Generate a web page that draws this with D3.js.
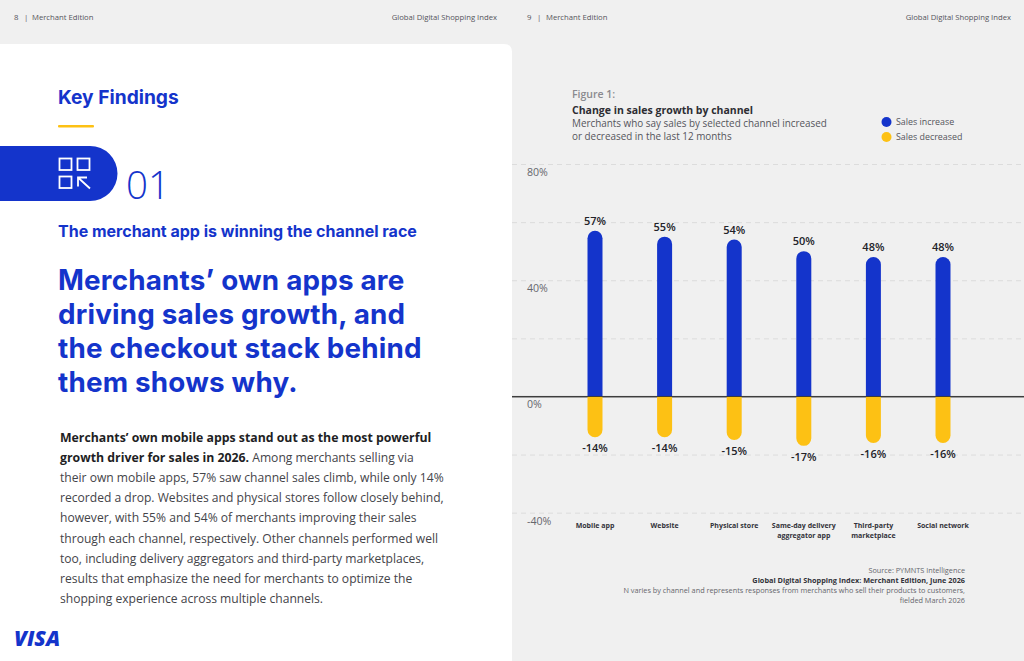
<!DOCTYPE html>
<html>
<head>
<meta charset="utf-8">
<script src="https://cdn.jsdelivr.net/npm/d3@7"></script>
<style>
html,body{margin:0;padding:0;background:#f0f0f0;overflow:hidden}
svg{display:block}
text{font-family:"Open Sans","Noto Sans",sans-serif}
</style>
</head>
<body>
<svg id="c" width="1024" height="661"></svg>
<script>
const channels = ["Mobile app","Website","Physical store","Same-day delivery|aggregator app","Third-party|marketplace","Social network"];
const salesIncrease = [57,55,54,50,48,48];
const salesDecrease = [-14,-14,-15,-17,-16,-16];
const yTicks = [80,60,40,20,0,-20,-40];
const yTickLabels = {80:"80%",40:"40%",0:"0%","-40":"-40%"};
const legendItems = ["Sales increase","Sales decreased"];
const bodyLines = [
 [["Merchants’ own mobile apps stand out as the most powerful",1]],
 [["growth driver for sales in 2026.",1],[" Among merchants selling via",0]],
 [["their own mobile apps, 57% saw channel sales climb, while only 14%",0]],
 [["recorded a drop. Websites and physical stores follow closely behind,",0]],
 [["however, with 55% and 54% of merchants improving their sales",0]],
 [["through each channel, respectively. Other channels performed well",0]],
 [["too, including delivery aggregators and third-party marketplaces,",0]],
 [["results that emphasize the need for merchants to optimize the",0]],
 [["shopping experience across multiple channels.",0]]
];
const headline = ["Merchants’ own apps are","driving sales growth, and","the checkout stack behind","them shows why."];
const sourceLines = [
 ["Source: PYMNTS Intelligence",0],
 ["Global Digital Shopping Index: Merchant Edition, June 2026",1],
 ["N varies by channel and represents responses from merchants who sell their products to customers,",0],
 ["fielded March 2026",0]
];
const BLUE="#1434cb", GOLD="#fdc114", INK="#2d2d33", GREY="#55555c";

const svg=d3.select("#c");
function T(x,y,s,size,fill,weight,anchor){
  return svg.append("text").attr("x",x).attr("y",y).text(s).attr("font-size",size).attr("fill",fill)
    .attr("font-weight",weight||400).attr("text-anchor",anchor||"start");
}
// Page background
svg.append("rect").attr("width",1024).attr("height",661).attr("fill","#f0f0f0");
svg.append("path").attr("d","M0,44H504Q512,44 512,52V661H0Z").attr("fill","#fff");

// Running headers
[[14,24,32],[527,537,546]].forEach((h,i)=>{
  T(h[0],19.5,String(8+i),7.8,GREY);
  T(h[1],19.5,"|",7.8,GREY);
  T(h[2],19.5,"Merchant Edition",7.7,GREY);
});
T(497,19.5,"Global Digital Shopping Index",7.7,GREY,400,"end");
T(1011,19.5,"Global Digital Shopping Index",7.7,GREY,400,"end");

// Left page
T(58,104,"Key Findings",19.2,BLUE,700).style("font-family","Inter");
svg.append("rect").attr("x",58).attr("y",125).attr("width",36).attr("height",2.5).attr("rx",1).attr("fill",GOLD);
svg.append("path").attr("d","M0,146H90A27.5,27.5 0 0 1 90,201H0Z").attr("fill",BLUE);
const ic=svg.append("g").attr("fill","none").attr("stroke","#fff").attr("stroke-width",1.8);
ic.append("rect").attr("x",59.5).attr("y",158.5).attr("width",12).attr("height",11.5);
ic.append("rect").attr("x",77.5).attr("y",158.5).attr("width",12).attr("height",11.5);
ic.append("rect").attr("x",59.5).attr("y",176.5).attr("width",12).attr("height",11.5);
ic.append("path").attr("d","M78,186.5V177.5H87M78.5,178L90,188.5");
T(126,199,"01",38.5,BLUE,300);
T(58,237,"The merchant app is winning the channel race",16,BLUE,700).style("font-family","Inter");
headline.forEach((l,i)=>T(58,290+i*34,l,27.8,BLUE,700).style("font-family","Inter").style("letter-spacing","0.2px"));
bodyLines.forEach((segs,i)=>{
  const t=T(60,442+i*20.1,"",12.1,"#333338");
  segs.forEach(s=>t.append("tspan").text(s[0]).attr("font-weight",s[1]?700:400).attr("font-size",s[1]?12.3:12.1).attr("fill",s[1]?"#1e1e24":"#444449"));
});
T(14,646,"VISA",21,BLUE,800).attr("font-style","italic");

// Right page titles
T(572,98,"Figure 1:",10.5,"#8a8a8f",600);
T(572,114,"Change in sales growth by channel",10.5,INK,700);
T(572,127,"Merchants who say sales by selected channel increased",9.9,GREY);
T(572,140,"or decreased in the last 12 months",9.9,GREY);

// Legend
const legendColor=d3.scaleOrdinal().domain(legendItems).range([BLUE,GOLD]);
const legendY=d3.scalePoint().domain(legendItems).range([122,137]);
const lg=svg.append("g").selectAll("g").data(legendItems).join("g");
lg.append("circle").attr("cx",886.5).attr("cy",d=>legendY(d)).attr("r",5).attr("fill",d=>legendColor(d));
lg.append("text").attr("x",896).attr("y",d=>legendY(d)+3.2).attr("font-size",8.9).attr("fill",GREY).text(d=>d);

// Scales
const x=d3.scaleBand().domain(channels).range([560.2,977.8]).paddingInner(0);
const y=d3.scaleLinear().domain([-40,80]).range([512.7,164]);
const barW=15;

// Axis + gridlines
const yAxis=d3.axisLeft(y).tickValues(yTicks).tickSize(0).tickFormat(d=>yTickLabels[d]||"");
const yg=svg.append("g").attr("transform","translate(512,0)").call(yAxis);
yg.select(".domain").remove();
yg.selectAll(".tick line").attr("x1",0).attr("x2",512)
  .attr("stroke",d=>d===0?"#3a3a3a":"#dcdcdc")
  .attr("stroke-width",1)
  .attr("stroke-dasharray",d=>d===0?null:"5,4");
yg.selectAll(".tick text").attr("x",15).attr("dy",null).attr("y",11.5)
  .attr("text-anchor","start").attr("font-size",10.6).attr("fill","#66666c")
  .attr("font-family",'"Open Sans",sans-serif');

// Bars
function rounded(cx,v){
  const x0=cx-barW/2,x1=cx+barW/2,y0=y(0),yv=y(v),r=barW/2;
  const s=v>0?1:0, dir=v>0?1:-1;
  return `M${x0},${y0}V${yv+dir*r}A${r},${r} 0 0 ${s} ${x1},${yv+dir*r}V${y0}Z`;
}
const cx=d=>x(d)+x.bandwidth()/2;
const bars=svg.append("g");
bars.selectAll("path.up").data(channels).join("path").attr("class","up")
  .attr("d",(d,i)=>rounded(cx(d),salesIncrease[i])).attr("fill",BLUE);
bars.selectAll("path.dn").data(channels).join("path").attr("class","dn")
  .attr("d",(d,i)=>rounded(cx(d),salesDecrease[i])).attr("fill",GOLD);
svg.append("line").attr("x1",512).attr("x2",1024).attr("y1",y(0)).attr("y2",y(0)).attr("stroke","#3a3a3a").attr("stroke-width",1);

// Value labels
const vl=svg.append("g").attr("text-anchor","middle").attr("font-size",11).attr("font-weight",600).attr("fill","#222228");
vl.selectAll("text.up").data(channels).join("text").attr("class","up")
  .attr("x",cx).attr("y",(d,i)=>y(salesIncrease[i])-6).text((d,i)=>salesIncrease[i]+"%");
vl.selectAll("text.dn").data(channels).join("text").attr("class","dn")
  .attr("x",cx).attr("y",(d,i)=>y(salesDecrease[i])+15).text((d,i)=>salesDecrease[i]+"%");

// Category labels
const xl=svg.append("g").attr("text-anchor","middle").attr("font-size",7).attr("font-weight",700).attr("fill","#33333a");
channels.forEach(c=>{
  c.split("|").forEach((part,i)=>{
    xl.append("text").attr("x",cx(c)).attr("y",527.5+i*10).text(part);
  });
});

// Source block
sourceLines.forEach((l,i)=>T(965,573+i*10,l[0],7.3,l[1]?"#33333a":"#66666c",l[1]?700:400,"end"));
</script>
</body>
</html>
